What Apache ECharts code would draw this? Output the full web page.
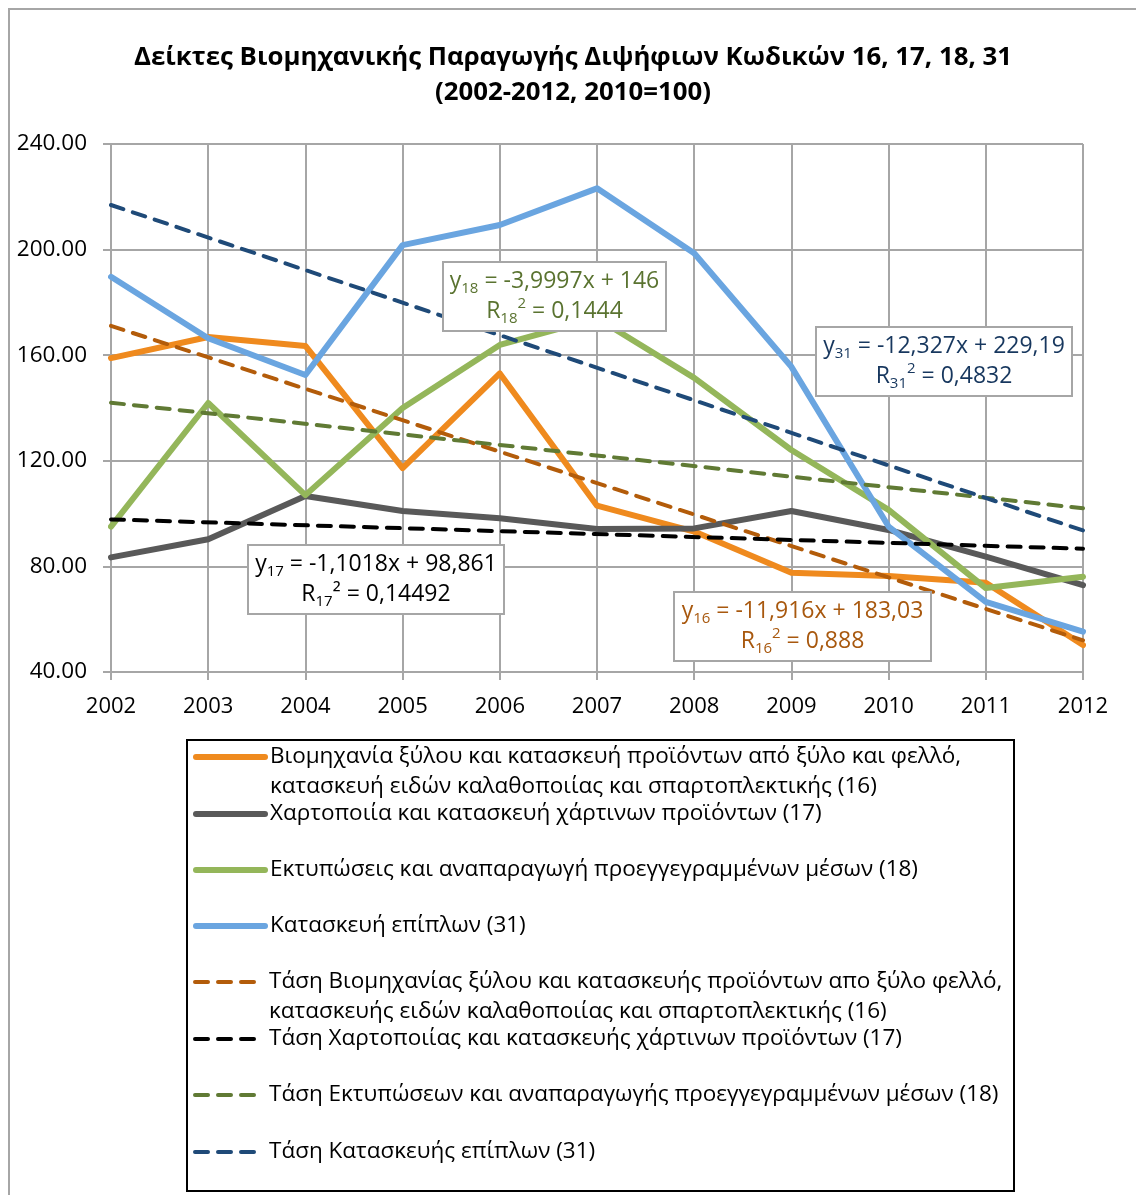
<!DOCTYPE html>
<html>
<head>
<meta charset="utf-8">
<script src="https://cdn.jsdelivr.net/npm/echarts@6/dist/echarts.min.js"></script>
<style>
  html, body { margin: 0; padding: 0; background: #fff; }
  #chart { width: 1136px; height: 1195px; }
</style>
</head>
<body>
<div id="chart"></div>
<script>
// years on the x axis
const years = ['2002', '2003', '2004', '2005', '2006', '2007', '2008', '2009', '2010', '2011', '2012'];
const yTicks = [40, 80, 120, 160, 200, 240];

// index values (2010=100)
const wood16 = [158.9, 166.9, 163.5, 117.2, 153.1, 103.0, 93.2, 77.6, 76.4, 73.8, 50.2];
const paper17 = [83.4, 90.3, 106.7, 101.0, 98.2, 94.2, 94.4, 101.0, 93.8, 83.7, 72.9];
const print18 = [95.1, 141.9, 107.0, 140.0, 163.9, 174.0, 151.4, 124.1, 101.4, 71.8, 76.1];
const furn31 = [189.7, 166.4, 152.5, 201.7, 209.3, 223.2, 198.6, 155.6, 95.1, 66.6, 55.3];

// linear trend lines: value at 2002 and at 2012
const trend16 = [171.1, 52.0];
const trend17 = [97.8, 86.7];
const trend18 = [142.0, 102.0];
const trend31 = [216.9, 93.6];

const names = [
  'Βιομηχανία ξύλου και κατασκευή προϊόντων από ξύλο και φελλό, κατασκευή ειδών καλαθοποιίας και σπαρτοπλεκτικής (16)',
  'Χαρτοποιία και κατασκευή χάρτινων προϊόντων (17)',
  'Εκτυπώσεις και αναπαραγωγή προεγγεγραμμένων μέσων (18)',
  'Κατασκευή επίπλων (31)',
  'Τάση Βιομηχανίας ξύλου και κατασκευής προϊόντων απο ξύλο φελλό, κατασκευής ειδών καλαθοποιίας και σπαρτοπλεκτικής (16)',
  'Τάση Χαρτοποιίας και κατασκευής χάρτινων προϊόντων (17)',
  'Τάση Εκτυπώσεων και αναπαραγωγής προεγγεγραμμένων μέσων (18)',
  'Τάση Κατασκευής επίπλων (31)'
];

const FONT = '"Open Sans", "Noto Sans", sans-serif';
const GRID_GRAY = '#A6A6A6';
const colors = ['#EF8A1E', '#595959', '#94B65A', '#6AA5E0', '#B35C0A', '#000000', '#607A34', '#1F4A78'];
const DASH = [13, 10];

let chart = echarts.init(document.getElementById('chart'));

function solid(i, values) {
  return {
    name: names[i], type: 'line', symbol: 'none', data: values,
    color: colors[i],
    lineStyle: { width: 6, color: colors[i], cap: 'round', join: 'round' },
    z: 2 + i
  };
}

function trend(i, ends) {
  return {
    name: names[i], type: 'line', symbol: 'none',
    data: [[years[0], ends[0]], [years[years.length - 1], ends[1]]],
    color: colors[i],
    lineStyle: { width: 4, color: colors[i], type: DASH, cap: 'round' },
    z: 10 + i
  };
}

// legend rows: centre of first text line of each entry
const legendRows = [757, 814, 870, 926, 982, 1039, 1095, 1152];
const legends = names.map(function (n, i) {
  let twoLines = n.indexOf(', ') >= 0;
  let isTrend = i >= 4;
  return {
    data: [n],
    left: 193,
    top: legendRows[i] - (twoLines ? 45 : 15),
    padding: 0,
    itemWidth: 69,
    itemHeight: 14,
    selectedMode: false,
    itemStyle: { opacity: 0 },
    lineStyle: isTrend
      ? { width: 4, color: colors[i], type: DASH, cap: 'round' }
      : { width: 6, color: colors[i], cap: 'round' },
    formatter: function (name) {
      // empty first line so the icon sits next to the first text line
      return name.indexOf(', ') >= 0 ? '\n' + name.replace(', ', ',\n') : name;
    },
    textStyle: { fontFamily: FONT, fontSize: 22.5, color: '#000', lineHeight: 30 }
  };
});

function eqBox(x, y, w, h, color, line1, line2) {
  return {
    type: 'group', x: x, y: y, z: 100,
    children: [
      { type: 'rect', z: 100, shape: { x: 0, y: 0, width: w, height: h },
        style: { fill: '#fff', stroke: GRID_GRAY, lineWidth: 2 } },
      { type: 'text', z: 101, x: w / 2, y: h / 2,
        style: {
          text: line1 + '\n' + line2,
          align: 'center', verticalAlign: 'middle',
          fontFamily: FONT, fontSize: 23, lineHeight: 30, fill: color,
          rich: {
            s: { fontFamily: FONT, fontSize: 15, lineHeight: 16, verticalAlign: 'bottom', fill: color },
            p: { fontFamily: FONT, fontSize: 15, lineHeight: 16, verticalAlign: 'top', fill: color }
          }
        } }
    ]
  };
}

chart.setOption({
  animation: false,
  backgroundColor: '#fff',
  title: {
    text: 'Δείκτες Βιομηχανικής Παραγωγής Διψήφιων Κωδικών 16, 17, 18, 31\n(2002-2012, 2010=100)',
    left: 573,
    top: 40,
    padding: 0,
    textAlign: 'center',
    textStyle: { fontFamily: FONT, fontSize: 25.8, fontWeight: 'bold', color: '#000', lineHeight: 35 }
  },
  legend: legends,
  grid: { left: 111, right: 53, top: 144, bottom: 523 },
  xAxis: {
    type: 'category', data: years, boundaryGap: false,
    axisLine: { lineStyle: { color: GRID_GRAY, width: 2 } },
    axisTick: { show: true, length: 8, lineStyle: { color: GRID_GRAY, width: 2 } },
    axisLabel: { fontFamily: FONT, fontSize: 22, color: '#000', margin: 24 },
    splitLine: { show: true, lineStyle: { color: GRID_GRAY, width: 2 } }
  },
  yAxis: {
    type: 'value', min: yTicks[0], max: yTicks[yTicks.length - 1], interval: 40,
    axisLine: { show: true, lineStyle: { color: GRID_GRAY, width: 2 } },
    axisTick: { show: true, length: 8, lineStyle: { color: GRID_GRAY, width: 2 } },
    axisLabel: { fontFamily: FONT, fontSize: 22.5, color: '#000', margin: 24,
      formatter: function (v) { return v.toFixed(2); } },
    splitLine: { lineStyle: { color: GRID_GRAY, width: 2 } }
  },
  series: [
    solid(0, wood16), solid(1, paper17), solid(2, print18), solid(3, furn31),
    trend(4, trend16), trend(5, trend17), trend(6, trend18), trend(7, trend31)
  ],
  graphic: [
    { type: 'rect', shape: { x: 9, y: 9, width: 1200, height: 1300 }, silent: true,
      style: { fill: 'none', stroke: GRID_GRAY, lineWidth: 2 }, z: -1 },
    { type: 'rect', shape: { x: 187, y: 740, width: 827, height: 451 }, silent: true,
      style: { fill: 'none', stroke: '#000', lineWidth: 2 } },
    eqBox(443, 262, 223, 69, '#5A7330', 'y{s|18} = -3,9997x + 146', 'R{s|18}{p|2} = 0,1444'),
    eqBox(816, 327, 256, 69, '#17375E', 'y{s|31} = -12,327x + 229,19', 'R{s|31}{p|2} = 0,4832'),
    eqBox(248, 545, 256, 69, '#000000', 'y{s|17} = -1,1018x + 98,861', 'R{s|17}² = 0,14492'),
    eqBox(674, 592, 257, 69, '#A8580E', 'y{s|16} = -11,916x + 183,03', 'R{s|16}{p|2} = 0,888')
  ]
});
</script>
</body>
</html>
